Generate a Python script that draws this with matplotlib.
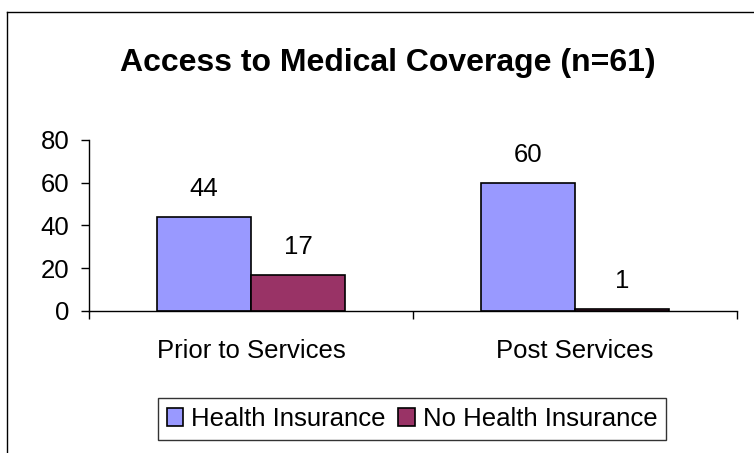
import numpy as np
import matplotlib
matplotlib.use("Agg")
from matplotlib import pyplot as plt
from matplotlib.lines import Line2D

plt.rcParams['font.family'] = ['Liberation Sans', 'DejaVu Sans']

categories = ["Prior to Services", "Post Services"]
health_insurance = [44, 60]
no_health_insurance = [17, 1]
series_names = ["Health Insurance", "No Health Insurance"]
yticks = [0, 20, 40, 60, 80]

fs = 18.5

fig = plt.figure(figsize=(7.54, 4.53), dpi=100)
ax = fig.add_axes([0.118, 0.3135, 0.8595, 0.3775])

x = np.arange(len(categories))
w = 0.29
b1 = ax.bar(x - w / 2, health_insurance, w, color="#9999FF", edgecolor="black", linewidth=1.2,
            label=series_names[0])
b2 = ax.bar(x + w / 2, no_health_insurance, w, color="#993366", edgecolor="black", linewidth=1.2,
            label=series_names[1])

for bars in (b1, b2):
    for rect in bars:
        h = rect.get_height()
        ax.annotate(str(int(h)), (rect.get_x() + rect.get_width() / 2, h),
                    xytext=(0, 20), textcoords="offset points",
                    ha="center", va="center", fontsize=fs)

ax.set_xlim(-0.5, 1.5)
ax.set_ylim(0, 80)
ax.set_yticks(yticks)
ax.tick_params(axis="y", direction="out", length=6, width=1, labelsize=fs, pad=8)
ax.set_xticks(x)
ax.set_xticklabels(categories, fontsize=fs)
ax.tick_params(axis="x", which="major", length=0, pad=20)
ax.set_xticks([-0.5, 0.5, 1.5], minor=True)
ax.tick_params(axis="x", which="minor", direction="out", length=6, width=1)
for s in ("top", "right"):
    ax.spines[s].set_visible(False)
for s in ("left", "bottom"):
    ax.spines[s].set_linewidth(1)

fig.text(0.515, 1 - 63 / 453, "Access to Medical Coverage (n=61)", ha="center", va="center",
         fontsize=23, fontweight="bold")

leg = fig.legend(loc="center", bbox_to_anchor=(412 / 754, 1 - 419 / 453), ncol=2,
                 fontsize=fs, frameon=True, fancybox=False, shadow=False,
                 handlelength=0.65, handleheight=0.65, handletextpad=0.3,
                 columnspacing=0.5, borderpad=0.35, borderaxespad=0)
leg.get_frame().set_edgecolor("black")
leg.get_frame().set_linewidth(1)

# chart border (cropped on right and bottom)
fig.add_artist(Line2D([7 / 754, 7 / 754], [0, 1 - 12 / 453], color="black", linewidth=1))
fig.add_artist(Line2D([7 / 754, 1], [1 - 12 / 453, 1 - 12 / 453], color="black", linewidth=1))

fig.savefig("out.png", dpi=100)
